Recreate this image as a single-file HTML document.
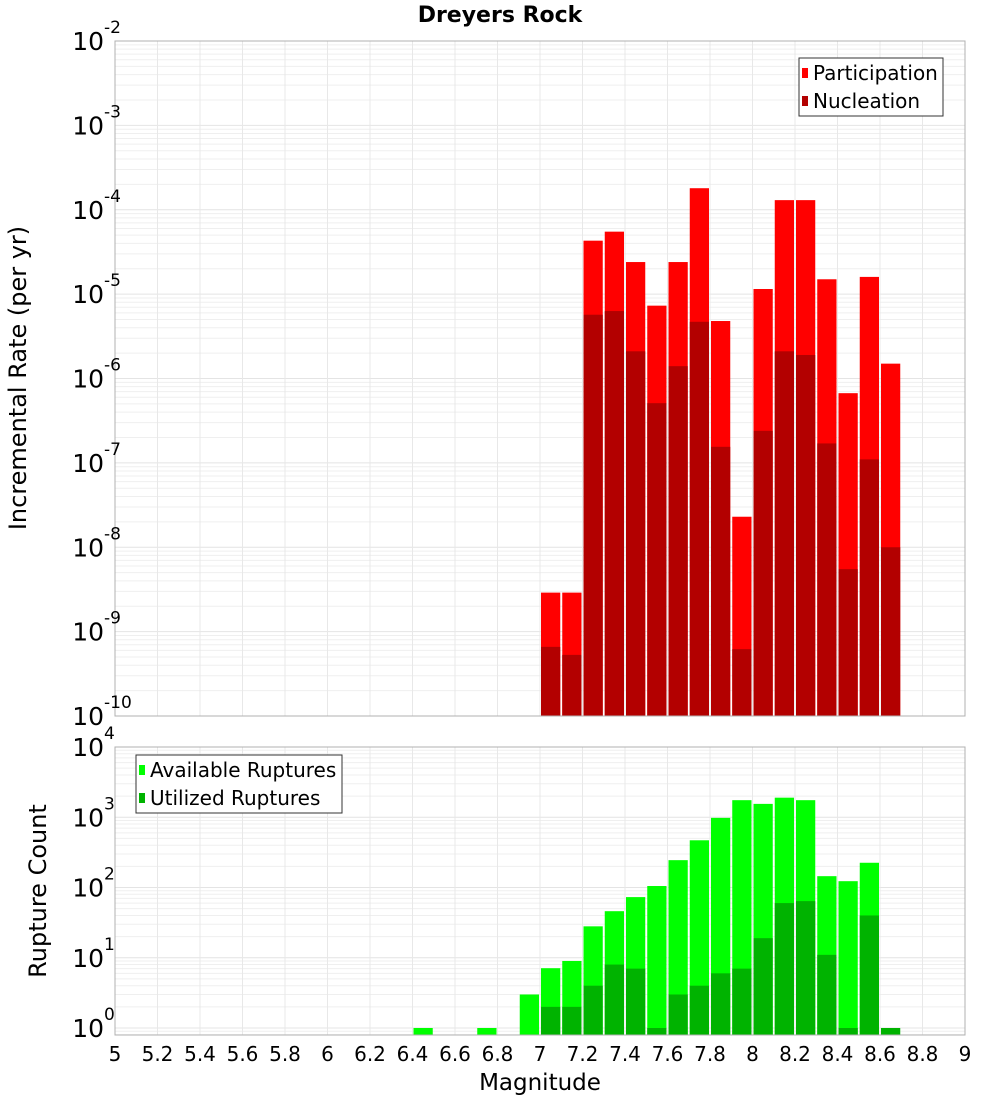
<!DOCTYPE html>
<html><head><meta charset="utf-8"><style>
body{margin:0;background:#fff;}
svg{display:block;font-family:"DejaVu Sans","Liberation Sans",sans-serif;}
</style></head><body>
<svg id="chart" width="1000" height="1100" xmlns="http://www.w3.org/2000/svg">
<text x="500" y="22" text-anchor="middle" font-size="22" font-weight="bold">Dreyers Rock</text>
<g id="top"></g><g id="bot"></g>
<text transform="translate(26,378) rotate(-90)" text-anchor="middle" font-size="24">Incremental Rate (per yr)</text>
<text transform="translate(46,891) rotate(-90)" text-anchor="middle" font-size="24">Rupture Count</text>
<text x="540" y="1090" text-anchor="middle" font-size="23">Magnitude</text>
</svg>
<script>
const mags = [6.45,6.75,6.95,7.05,7.15,7.25,7.35,7.45,7.55,7.65,7.75,7.85,7.95,8.05,8.15,8.25,8.35,8.45,8.55,8.65];
const rateMags = [7.05,7.15,7.25,7.35,7.45,7.55,7.65,7.75,7.85,7.95,8.05,8.15,8.25,8.35,8.45,8.55,8.65];
const participation = [2.9e-9,2.9e-9,4.3e-5,5.5e-5,2.4e-5,7.3e-6,2.4e-5,1.8e-4,4.8e-6,2.3e-8,1.15e-5,1.3e-4,1.3e-4,1.5e-5,6.7e-7,1.6e-5,1.5e-6];
const nucleation = [6.6e-10,5.3e-10,5.7e-6,6.3e-6,2.1e-6,5.1e-7,1.4e-6,4.7e-6,1.55e-7,6.2e-10,2.4e-7,2.1e-6,1.9e-6,1.7e-7,5.5e-9,1.1e-7,1.0e-8];
const available = [1,1,3,7.1,9,28,46,73,105,245,470,980,1750,1550,1900,1750,145,123,225,0];
const utilized = [0,0,0,2,2,4,8,7,1,3,4,6,7,19,60,64,11,1,40,1];
const xTicks = ["5","5.2","5.4","5.6","5.8","6","6.2","6.4","6.6","6.8","7","7.2","7.4","7.6","7.8","8","8.2","8.4","8.6","8.8","9"];
const topExps = [-2,-3,-4,-5,-6,-7,-8,-9,-10];
const botExps = [4,3,2,1,0];

const NS="http://www.w3.org/2000/svg";
const L=115,R=965;
const x=m=>L+(m-5)*(R-L)/4;
const yTop=v=>41+(-2-Math.log10(v))*84.375;
const yBot=v=>747+(4-Math.log10(v))*70.25;
function mk(p,t,a){const e=document.createElementNS(NS,t);for(const k in a)e.setAttribute(k,a[k]);p.appendChild(e);return e;}
function grid(g,top,bot,yf,emin,emax,name){
  mk(g,'rect',{x:L,y:top,width:R-L,height:bot-top,fill:'#fff'});
  for(let e=emin;e<emax;e++)for(let k=1;k<10;k++){const yy=yf(k*Math.pow(10,e));if(yy<top||yy>bot)continue;
    const l=mk(g,'line',{x1:L,x2:R,y1:yy,y2:yy,stroke:k==1?'#e4e4e4':'#efefef','stroke-width':1});
    }
  for(let i=1;i<xTicks.length-1;i++){const xx=x(5+i*0.2);
    const l=mk(g,'line',{x1:xx,x2:xx,y1:top,y2:bot,stroke:'#e8e8e8'});
    }
}
function bars(g,ms,vals,yf,bot,col,name){
  ms.forEach((m,i)=>{const v=vals[i];if(!v)return;const yy=Math.max(yf(v),0);
    const r=mk(g,'rect',{x:x(m-0.05)+1,y:yy,width:(R-L)/40-2,height:bot-yy,fill:col});
    });
}
function ylabels(g,exps,yf){
  exps.forEach(e=>{const yy=yf(Math.pow(10,e));
    const t=mk(g,'text',{x:104,y:yy+9,'text-anchor':'end','font-size':25});t.textContent='10';
    
    const s=mk(g,'text',{x:104,y:yy-8,'font-size':17});s.textContent=String(e);
    });
}
function legend(g,bx,by,bw,items){
  const b=mk(g,'rect',{x:bx,y:by,width:bw,height:58,fill:'#fff',stroke:'#333'});
  
  items.forEach((it,i)=>{
    const s=mk(g,'rect',{x:bx+3,y:by+10+i*28,width:6,height:10,fill:it[1]});
    
    const t=mk(g,'text',{x:bx+14,y:by+22+i*28,'font-size':20});t.textContent=it[0];
    });
}
const gt=document.getElementById('top'),gb=document.getElementById('bot');
grid(gt,41,716,yTop,-10,-2,'top');
bars(gt,rateMags,participation,yTop,716,'#ff0000','participation');
bars(gt,rateMags,nucleation,yTop,716,'#b30000','nucleation');
mk(gt,'rect',{x:L,y:41,width:R-L,height:675,fill:'none',stroke:'#b0b0b0'});
ylabels(gt,topExps,yTop);
legend(gt,799,58,144,[['Participation','#ff0000'],['Nucleation','#b30000']]);

grid(gb,747,1035,yBot,-1,4,'bottom');
bars(gb,mags,available,yBot,1035,'#00ff00','available');
bars(gb,mags,utilized,yBot,1035,'#00b300','utilized');
mk(gb,'rect',{x:L,y:747,width:R-L,height:288,fill:'none',stroke:'#b0b0b0'});
ylabels(gb,botExps,yBot);
legend(gb,136,755,206,[['Available Ruptures','#00ff00'],['Utilized Ruptures','#00b300']]);
xTicks.forEach((t,i)=>{const e=mk(gb,'text',{x:x(5+i*0.2),y:1061,'text-anchor':'middle','font-size':20});e.textContent=t;
  });
</script>
</body></html>
